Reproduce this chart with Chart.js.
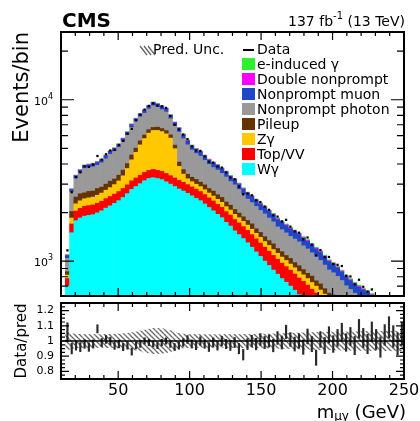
<!DOCTYPE html>
<html>
<head>
<meta charset="utf-8">
<script src="https://cdn.jsdelivr.net/npm/chart.js@4"></script>
<style>
  html, body { margin: 0; padding: 0; background: #fff; }
  #wrap { position: relative; width: 420px; height: 421px; }
  #mainChart { position: absolute; left: 0; top: 0; }
  #ratioChart { position: absolute; left: 0; top: 300px; }
</style>
</head>
<body>
<div id="wrap">
  <canvas id="mainChart" width="420" height="300"></canvas>
  <canvas id="ratioChart" width="420" height="121"></canvas>
</div>
<script>
Chart.defaults.font.family = '"DejaVu Sans", sans-serif';
Chart.defaults.color = '#000';

// bin centres in GeV (3 GeV bins from 13 to 250)
const massBins = [14.5, 17.5, 20.5, 23.5, 26.5, 29.5, 32.5, 35.5, 38.5, 41.5,
  44.5, 47.5, 50.5, 53.5, 56.5, 59.5, 62.5, 65.5, 68.5, 71.5,
  74.5, 77.5, 80.5, 83.5, 86.5, 89.5, 92.5, 95.5, 98.5, 101.5,
  104.5, 107.5, 110.5, 113.5, 116.5, 119.5, 122.5, 125.5, 128.5, 131.5,
  134.5, 137.5, 140.5, 143.5, 146.5, 149.5, 152.5, 155.5, 158.5, 161.5,
  164.5, 167.5, 170.5, 173.5, 176.5, 179.5, 182.5, 185.5, 188.5, 191.5,
  194.5, 197.5, 200.5, 203.5, 206.5, 209.5, 212.5, 215.5, 218.5, 221.5,
  224.5, 227.5, 230.5, 233.5, 236.5, 239.5, 242.5, 245.5, 248.5];

// stacked predictions, events per bin
const wGamma = [700, 1500, 1780, 1850, 1900, 1920, 1940, 1990, 2050, 2130,
  2200, 2280, 2370, 2480, 2620, 2780, 2900, 3020, 3150, 3250,
  3290, 3250, 3200, 3100, 3000, 2900, 2800, 2720, 2630, 2540,
  2450, 2370, 2260, 2150, 2050, 1950, 1860, 1740, 1650, 1540,
  1460, 1380, 1300, 1220, 1140, 1070, 1000, 940, 880, 830,
  780, 740, 700, 660, 620, 590, 555, 520, 490, 460,
  430, 400, 380, 355, 335, 310, 290, 272, 255, 240,
  225, 212, 200, 188, 176, 165, 155, 146, 138];
const topVV = [80, 200, 265, 275, 285, 290, 290, 295, 300, 310,
  315, 320, 330, 340, 350, 365, 375, 385, 395, 405,
  410, 405, 400, 395, 385, 375, 365, 360, 350, 345,
  340, 330, 325, 315, 310, 300, 295, 285, 280, 270,
  265, 255, 250, 240, 235, 225, 220, 212, 205, 198,
  192, 185, 178, 172, 166, 160, 155, 150, 145, 140,
  135, 130, 125, 121, 117, 113, 109, 105, 101, 98,
  95, 92, 89, 86, 83, 80, 78, 76, 74];
const zGamma = [40, 150, 220, 240, 250, 255, 265, 275, 290, 310,
  340, 380, 440, 560, 780, 1100, 1450, 1850, 2200, 2550,
  2750, 2800, 2750, 2650, 2400, 1700, 700, 380, 260, 220,
  205, 195, 185, 178, 170, 165, 158, 150, 145, 140,
  134, 128, 122, 117, 112, 107, 102, 98, 94, 90,
  87, 84, 81, 78, 75, 72, 70, 67, 65, 62,
  60, 58, 56, 54, 52, 50, 48, 46, 45, 44,
  42, 41, 40, 39, 38, 37, 36, 35, 34];
const pileup = [40, 180, 230, 250, 215, 240, 225, 260, 235, 250,
  275, 250, 270, 285, 270, 300, 290, 310, 300, 320,
  290, 310, 280, 300, 270, 260, 240, 230, 215, 205,
  215, 190, 200, 175, 185, 165, 170, 150, 145, 140,
  125, 120, 115, 125, 100, 105, 95, 90, 100, 80,
  85, 75, 80, 70, 75, 65, 60, 70, 55, 60,
  50, 45, 55, 40, 45, 38, 40, 35, 38, 32,
  35, 30, 30, 28, 26, 25, 24, 22, 21];
const npPhoton = [180, 650, 750, 903, 1102, 1087, 1117, 1108, 1195, 1306,
  1462, 1549, 1655, 1829, 2003, 2200, 2302, 2274, 2211, 2243,
  2440, 2205, 2054, 1953, 1565, 1607, 2210, 2048, 1803, 1569,
  1433, 1387, 1246, 1156, 1087, 1089, 1014, 997, 893, 880,
  794, 702, 636, 603, 595, 553, 545, 509, 474, 433,
  423, 413, 385, 390, 381, 357, 350, 319, 308, 287,
  270, 249, 231, 234, 209, 193, 181, 175, 167, 168,
  168, 164, 153, 135, 128, 117, 105, 93, 87];
const npMuon = [40, 90, 120, 125, 135, 140, 145, 150, 155, 165,
  175, 185, 195, 210, 225, 245, 265, 285, 310, 340,
  370, 380, 370, 360, 345, 330, 315, 300, 285, 270,
  260, 255, 245, 240, 235, 230, 225, 222, 215, 210,
  205, 200, 195, 195, 190, 185, 185, 180, 178, 172,
  168, 160, 155, 150, 145, 140, 135, 130, 125, 120,
  115, 110, 105, 100, 96, 92, 88, 85, 82, 78,
  75, 72, 70, 66, 63, 60, 57, 54, 52];
const doubleNP = [10, 25, 30, 32, 35, 38, 38, 40, 42, 44,
  46, 48, 50, 53, 56, 60, 64, 68, 72, 76,
  80, 80, 78, 76, 72, 68, 64, 60, 57, 54,
  52, 50, 48, 46, 44, 43, 41, 40, 38, 37,
  35, 34, 32, 31, 30, 28, 27, 26, 25, 24,
  23, 22, 21, 20, 19, 18, 18, 17, 16, 16,
  15, 14, 14, 13, 13, 12, 12, 11, 11, 10,
  10, 10, 9, 9, 8, 8, 8, 7, 7];
const eInduced = [10, 20, 25, 25, 28, 30, 30, 32, 33, 35,
  37, 38, 40, 43, 46, 50, 54, 58, 62, 66,
  70, 70, 68, 66, 63, 60, 56, 52, 50, 47,
  45, 43, 41, 40, 39, 38, 37, 36, 34, 33,
  32, 31, 30, 29, 28, 27, 26, 25, 24, 23,
  22, 21, 20, 20, 19, 18, 17, 17, 16, 15,
  15, 14, 14, 13, 13, 12, 12, 11, 11, 10,
  10, 9, 9, 9, 8, 8, 7, 7, 7];

// data / prediction, its error, and the prediction uncertainty
const dataRatio = [1.06, 0.95, 0.97, 0.96, 0.98, 0.96, 0.98, 1.08, 0.99, 1.01,
  1.00, 0.97, 0.98, 0.96, 0.97, 0.93, 0.97, 0.98, 1.00, 0.99,
  0.98, 0.97, 0.99, 1.00, 0.98, 0.96, 0.97, 0.99, 1.01, 0.98,
  0.97, 1.00, 0.98, 0.96, 0.99, 0.97, 1.00, 0.98, 0.97, 0.99,
  0.95, 0.91, 0.98, 1.00, 0.98, 1.01, 0.99, 1.00, 0.97, 1.02,
  0.99, 1.06, 1.01, 0.98, 1.00, 0.96, 1.03, 0.98, 0.89, 1.01,
  0.97, 1.04, 0.98, 1.02, 1.06, 0.99, 1.03, 0.97, 1.08, 1.02,
  0.98, 1.06, 1.01, 0.96, 1.04, 1.09, 1.03, 0.98, 1.05];
const dataErr = [0.06, 0.035, 0.03, 0.03, 0.028, 0.028, 0.027, 0.027, 0.026, 0.026,
  0.025, 0.025, 0.025, 0.024, 0.024, 0.023, 0.022, 0.022, 0.021, 0.021,
  0.02, 0.02, 0.021, 0.021, 0.022, 0.023, 0.024, 0.025, 0.026, 0.027,
  0.027, 0.028, 0.028, 0.029, 0.03, 0.03, 0.031, 0.031, 0.032, 0.033,
  0.034, 0.035, 0.036, 0.037, 0.038, 0.039, 0.04, 0.04, 0.041, 0.042,
  0.043, 0.044, 0.045, 0.046, 0.047, 0.048, 0.049, 0.05, 0.05, 0.052,
  0.053, 0.054, 0.055, 0.056, 0.057, 0.058, 0.059, 0.06, 0.062, 0.063,
  0.064, 0.065, 0.066, 0.067, 0.068, 0.07, 0.071, 0.072, 0.074];
const predUnc = [0.06, 0.05, 0.047, 0.046, 0.045, 0.045, 0.045, 0.045, 0.045, 0.046,
  0.046, 0.047, 0.048, 0.05, 0.053, 0.057, 0.062, 0.068, 0.074, 0.08,
  0.085, 0.085, 0.083, 0.078, 0.07, 0.06, 0.052, 0.048, 0.046, 0.045,
  0.045, 0.045, 0.044, 0.044, 0.044, 0.044, 0.044, 0.045, 0.045, 0.045,
  0.045, 0.046, 0.046, 0.046, 0.047, 0.047, 0.048, 0.048, 0.049, 0.05,
  0.051, 0.052, 0.053, 0.054, 0.055, 0.056, 0.057, 0.058, 0.058, 0.059,
  0.06, 0.06, 0.061, 0.061, 0.062, 0.062, 0.063, 0.063, 0.064, 0.064,
  0.065, 0.065, 0.065, 0.066, 0.066, 0.066, 0.067, 0.067, 0.067];

const countTickLabels = [1000, 10000];
const massTickLabels = [50, 100, 150, 200, 250];
const ratioTickLabels = [0.8, 0.9, 1, 1.1, 1.2];

// bottom of the stack first
const components = [
  { label: 'Wγ', data: wGamma, color: '#00ffff' },
  { label: 'Top/VV', data: topVV, color: '#ff0000' },
  { label: 'Zγ', data: zGamma, color: '#ffc800' },
  { label: 'Pileup', data: pileup, color: '#663300' },
  { label: 'Nonprompt photon', data: npPhoton, color: '#999999' },
  { label: 'Nonprompt muon', data: npMuon, color: '#1f46c8' },
  { label: 'Double nonprompt', data: doubleNP, color: '#ff00ff' },
  { label: 'e-induced γ', data: eInduced, color: '#2ef02e' },
];

const predTotal = massBins.map((_, i) => components.reduce((s, c) => s + c.data[i], 0));

const F = (size, bold) => (bold ? 'bold ' : '') + size + 'px "DejaVu Sans"';

function makeHatch(size, color) {
  const c = document.createElement('canvas');
  c.width = size;
  c.height = size;
  const g = c.getContext('2d');
  g.strokeStyle = color;
  g.lineWidth = 1.3;
  g.beginPath();
  g.moveTo(-1, -1); g.lineTo(size + 1, size + 1);
  g.moveTo(-1, size - 1); g.lineTo(1, size + 1);
  g.moveTo(size - 1, -1); g.lineTo(size + 1, 1);
  g.stroke();
  return g.createPattern(c, 'repeat');
}
const hatch = makeHatch(5, '#666666');

// inward ticks on all four sides plus the frame
function drawFrame(chart, xTicks, yTicks) {
  const { ctx, chartArea: a, scales } = chart;
  ctx.save();
  ctx.strokeStyle = '#000';
  ctx.lineWidth = 1.2;
  ctx.beginPath();
  xTicks.forEach(t => {
    const px = scales.x.getPixelForValue(t.v);
    ctx.moveTo(px, a.bottom); ctx.lineTo(px, a.bottom - t.len);
    ctx.moveTo(px, a.top); ctx.lineTo(px, a.top + t.len);
  });
  yTicks.forEach(t => {
    const py = scales.y.getPixelForValue(t.v);
    ctx.moveTo(a.left, py); ctx.lineTo(a.left + t.len, py);
    ctx.moveTo(a.right, py); ctx.lineTo(a.right - t.len, py);
  });
  ctx.stroke();
  ctx.lineWidth = 2;
  ctx.strokeRect(a.left, a.top, a.right - a.left, a.bottom - a.top);
  ctx.restore();
}

const massTicks = [];
for (let v = 20; v < 250; v += 10) massTicks.push({ v, len: v % 50 === 0 ? 8 : 4 });

const countTicks = [];
[700, 800, 900, 1000, 2000, 3000, 4000, 5000, 6000, 7000, 8000, 9000, 10000, 20000].forEach(v => {
  countTicks.push({ v, len: countTickLabels.includes(v) ? 13 : 7 });
});

const ratioTicks = [];
for (let k = 31; k <= 49; k++) {
  const v = k * 0.025;
  ratioTicks.push({ v, len: k % 4 === 0 ? 8 : 4 });
}

const mainDecor = {
  id: 'mainDecor',
  afterDraw(chart) {
    drawFrame(chart, massTicks, countTicks);
    const ctx = chart.ctx;
    ctx.save();
    ctx.fillStyle = '#000';
    ctx.textBaseline = 'alphabetic';
    ctx.textAlign = 'left';

    // 10^3, 10^4 labels
    countTickLabels.forEach(v => {
      const py = chart.scales.y.getPixelForValue(v);
      const exp = String(Math.round(Math.log10(v)));
      ctx.font = F(8);
      const wE = ctx.measureText(exp).width;
      ctx.font = F(11);
      const wB = ctx.measureText('10').width;
      ctx.fillText('10', 53 - wE - wB, py + 5);
      ctx.font = F(8);
      ctx.fillText(exp, 53 - wE, py - 1);
    });

    ctx.font = F(20, true);
    ctx.fillText('CMS', 62, 27);

    // 137 fb-1 (13 TeV)
    ctx.font = F(14);
    const head = '137 fb', tail = ' (13 TeV)';
    const wHead = ctx.measureText(head).width, wTail = ctx.measureText(tail).width;
    ctx.font = F(10);
    const wSup = ctx.measureText('-1').width;
    let x = 405 - wHead - wSup - wTail;
    ctx.font = F(14);
    ctx.fillText(head, x, 26); x += wHead;
    ctx.font = F(10);
    ctx.fillText('-1', x, 19); x += wSup;
    ctx.font = F(14);
    ctx.fillText(tail, x, 26);

    // legend
    ctx.strokeStyle = '#666';
    ctx.lineWidth = 1.3;
    ctx.beginPath();
    for (let k = 0; k < 3; k++) {
      ctx.moveTo(140 + k * 4, 46); ctx.lineTo(147 + k * 4, 55);
    }
    ctx.stroke();
    ctx.fillText('Pred. Unc.', 153, 54);

    ctx.strokeStyle = '#000';
    ctx.lineWidth = 2;
    ctx.beginPath();
    ctx.moveTo(243, 50); ctx.lineTo(254, 50);
    ctx.stroke();
    ctx.fillText('Data', 257, 54);

    components.slice().reverse().forEach((c, k) => {
      const base = 69 + k * 15;
      ctx.fillStyle = c.color;
      ctx.fillRect(242, base - 11, 13, 12);
      ctx.fillStyle = '#000';
      ctx.fillText(c.label, 257, base);
    });
    ctx.restore();
  }
};

const ratioDecor = {
  id: 'ratioDecor',
  afterDraw(chart) {
    drawFrame(chart, massTicks, ratioTicks);
    const ctx = chart.ctx;
    ctx.save();
    ctx.fillStyle = '#000';

    // y labels
    ctx.font = F(11);
    ctx.textAlign = 'right';
    ctx.textBaseline = 'middle';
    ratioTickLabels.forEach(v => {
      ctx.fillText(v === 1 ? '1' : v.toFixed(1), 54, chart.scales.y.getPixelForValue(v));
    });

    // x labels
    ctx.font = F(16);
    ctx.textAlign = 'center';
    ctx.textBaseline = 'alphabetic';
    massTickLabels.forEach(v => {
      ctx.fillText(String(v), chart.scales.x.getPixelForValue(v), 95);
    });

    // axis title m_μγ (GeV)
    ctx.textAlign = 'left';
    ctx.font = F(18);
    const wM = ctx.measureText('m').width, wG = ctx.measureText(' (GeV)').width;
    ctx.font = F(12);
    const wS = ctx.measureText('μγ').width;
    let x = 406 - wM - wS - wG;
    ctx.font = F(18);
    ctx.fillText('m', x, 118); x += wM;
    ctx.font = F(12);
    ctx.fillText('μγ', x, 120); x += wS;
    ctx.font = F(18);
    ctx.fillText(' (GeV)', x, 118);
    ctx.restore();
  }
};

const stackSets = components.map(c => ({
  label: c.label,
  data: massBins.map((m, i) => ({ x: m, y: c.data[i] })),
  backgroundColor: c.color,
  borderWidth: 0,
  barPercentage: 1,
  categoryPercentage: 1,
  stack: 'mc',
  order: 2
}));

const dataSet = {
  type: 'line',
  label: 'Data',
  data: massBins.map((m, i) => ({ x: m, y: predTotal[i] * dataRatio[i] })),
  showLine: false,
  pointStyle: 'rect',
  pointRadius: 1.6,
  pointBackgroundColor: '#000',
  pointBorderWidth: 0,
  stack: 'data',
  order: 1
};

new Chart(document.getElementById('mainChart'), {
  type: 'bar',
  data: { datasets: [...stackSets, dataSet] },
  options: {
    responsive: false,
    animation: false,
    events: [],
    layout: { padding: { top: 32, right: 16, bottom: 0, left: 0 } },
    plugins: { legend: { display: false }, tooltip: { enabled: false } },
    scales: {
      x: {
        type: 'linear', min: 10, max: 250, stacked: true, offset: false,
        grid: { display: false }, border: { display: false },
        ticks: { display: false },
        afterFit: s => { s.height = 3; }
      },
      y: {
        type: 'logarithmic', min: 608, max: 26300, stacked: true,
        grid: { display: false, drawTicks: false }, border: { display: false },
        ticks: { display: false },
        title: {
          display: true, text: 'Events/bin', align: 'end',
          font: { size: 21, lineHeight: 1 }, padding: { top: 12 }
        },
        afterFit: s => { s.width = 61; }
      }
    }
  },
  plugins: [mainDecor]
});

new Chart(document.getElementById('ratioChart'), {
  type: 'bar',
  data: {
    datasets: [
      {
        type: 'line',
        data: [{ x: 10, y: 1 }, { x: 250, y: 1 }],
        borderColor: '#000', borderWidth: 1.5, pointRadius: 0, order: 0
      },
      {
        data: massBins.map((m, i) => ({ x: m, y: [dataRatio[i] - dataErr[i], dataRatio[i] + dataErr[i]] })),
        backgroundColor: '#2a2a2a', borderWidth: 0, barThickness: 1.5, grouped: false, order: 1
      },
      {
        data: massBins.map((m, i) => ({ x: m, y: [1 - predUnc[i], 1 + predUnc[i]] })),
        backgroundColor: hatch, borderWidth: 0, barPercentage: 1, categoryPercentage: 1,
        grouped: false, inflateAmount: 0, order: 2
      }
    ]
  },
  options: {
    responsive: false,
    animation: false,
    events: [],
    layout: { padding: { top: 3, right: 16, bottom: 0, left: 0 } },
    plugins: { legend: { display: false }, tooltip: { enabled: false } },
    scales: {
      x: {
        type: 'linear', min: 10, max: 250, offset: false,
        grid: { display: false, drawTicks: false }, border: { display: false },
        ticks: { display: false },
        afterFit: s => { s.height = 42; }
      },
      y: {
        min: 0.75, max: 1.25,
        grid: { display: false, drawTicks: false }, border: { display: false },
        ticks: { display: false },
        title: {
          display: true, text: 'Data/pred',
          font: { size: 15, lineHeight: 1 }, padding: { top: 15 }
        },
        afterFit: s => { s.width = 61; }
      }
    }
  },
  plugins: [ratioDecor]
});
</script>
</body>
</html>
